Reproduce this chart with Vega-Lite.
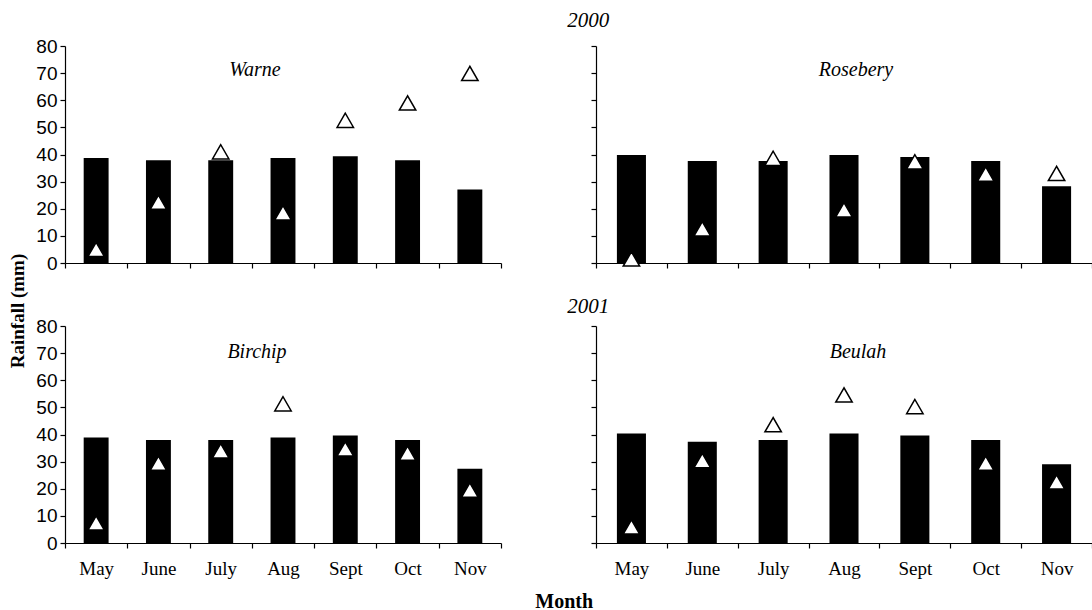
{
  "$schema": "https://vega.github.io/schema/vega-lite/v6.json",
  "padding": {"left": 8, "top": 10, "right": 0, "bottom": 0},
  "background": "white",
  "datasets": {
    "rain": [
      {"site": "Warne", "year": "2000", "month": "May", "mean": 38.7, "actual": 5.0},
      {"site": "Warne", "year": "2000", "month": "June", "mean": 37.9, "actual": 22.4},
      {"site": "Warne", "year": "2000", "month": "July", "mean": 37.9, "actual": 41.0},
      {"site": "Warne", "year": "2000", "month": "Aug", "mean": 38.7, "actual": 18.5},
      {"site": "Warne", "year": "2000", "month": "Sept", "mean": 39.4, "actual": 52.6},
      {"site": "Warne", "year": "2000", "month": "Oct", "mean": 37.9, "actual": 59.0},
      {"site": "Warne", "year": "2000", "month": "Nov", "mean": 27.1, "actual": 69.9},
      {"site": "Rosebery", "year": "2000", "month": "May", "mean": 39.8, "actual": 1.5},
      {"site": "Rosebery", "year": "2000", "month": "June", "mean": 37.6, "actual": 12.6},
      {"site": "Rosebery", "year": "2000", "month": "July", "mean": 37.6, "actual": 38.6},
      {"site": "Rosebery", "year": "2000", "month": "Aug", "mean": 39.8, "actual": 19.6},
      {"site": "Rosebery", "year": "2000", "month": "Sept", "mean": 39.1, "actual": 37.3},
      {"site": "Rosebery", "year": "2000", "month": "Oct", "mean": 37.6, "actual": 32.8},
      {"site": "Rosebery", "year": "2000", "month": "Nov", "mean": 28.3, "actual": 33.0},
      {"site": "Birchip", "year": "2001", "month": "May", "mean": 38.9, "actual": 7.4},
      {"site": "Birchip", "year": "2001", "month": "June", "mean": 38.0, "actual": 29.4},
      {"site": "Birchip", "year": "2001", "month": "July", "mean": 38.0, "actual": 34.0},
      {"site": "Birchip", "year": "2001", "month": "Aug", "mean": 38.9, "actual": 51.3},
      {"site": "Birchip", "year": "2001", "month": "Sept", "mean": 39.6, "actual": 34.7},
      {"site": "Birchip", "year": "2001", "month": "Oct", "mean": 38.0, "actual": 33.1},
      {"site": "Birchip", "year": "2001", "month": "Nov", "mean": 27.4, "actual": 19.5},
      {"site": "Beulah", "year": "2001", "month": "May", "mean": 40.4, "actual": 5.9},
      {"site": "Beulah", "year": "2001", "month": "June", "mean": 37.3, "actual": 30.4},
      {"site": "Beulah", "year": "2001", "month": "July", "mean": 38.0, "actual": 43.6},
      {"site": "Beulah", "year": "2001", "month": "Aug", "mean": 40.4, "actual": 54.6},
      {"site": "Beulah", "year": "2001", "month": "Sept", "mean": 39.6, "actual": 50.3},
      {"site": "Beulah", "year": "2001", "month": "Oct", "mean": 38.0, "actual": 29.4},
      {"site": "Beulah", "year": "2001", "month": "Nov", "mean": 29.0, "actual": 22.5}
    ]
  },
  "data": {"name": "rain"},
  "title": {"text": "Rainfall (mm)", "orient": "left", "anchor": "middle", "font": "Liberation Serif", "fontWeight": "bold", "fontSize": 19, "color": "black", "offset": 8},
  "vconcat": [
    {
      "title": {"text": "Month", "orient": "bottom", "anchor": "middle", "font": "Liberation Serif", "fontWeight": "bold", "fontSize": 20, "color": "black", "offset": 14},
      "spacing": 23,
      "vconcat": [
        {
          "title": {"text": "2000", "anchor": "middle", "font": "Liberation Serif", "fontStyle": "italic", "fontWeight": "normal", "fontSize": 21, "color": "black", "offset": 6, "dx": 24},
          "spacing": 88,
          "hconcat": [
            {
              "width": 436, "height": 217,
              "transform": [{"filter": "datum.site === 'Warne'"}],
              "encoding": {"x": {"field": "month", "type": "ordinal", "sort": ["May", "June", "July", "Aug", "Sept", "Oct", "Nov"], "scale": {"paddingInner": 0, "paddingOuter": 0}, "axis": {"title": null, "labels": false, "tickBand": "extent"}}},
              "layer": [
                {"mark": {"type": "bar", "color": "black", "width": {"band": 0.4}}, "encoding": {"y": {"field": "mean", "type": "quantitative", "scale": {"domain": [0, 80], "nice": false}, "axis": {"title": null, "tickCount": 10, "values": [0, 10, 20, 30, 40, 50, 60, 70, 80]}}}},
                {"mark": {"type": "point", "shape": "triangle-up", "filled": true, "fill": "white", "stroke": "black", "strokeWidth": 1.5, "size": 270, "opacity": 1}, "encoding": {"y": {"field": "actual", "type": "quantitative", "axis": {"title": null, "tickCount": 10, "values": [0, 10, 20, 30, 40, 50, 60, 70, 80]}}}},
                {"transform": [{"filter": "datum.month === 'Aug'"}], "mark": {"type": "text", "font": "Liberation Serif", "fontStyle": "italic", "fontSize": 20, "color": "black", "dx": -28}, "encoding": {"y": {"datum": 71, "type": "quantitative", "axis": {"title": null, "tickCount": 10, "values": [0, 10, 20, 30, 40, 50, 60, 70, 80]}}, "text": {"field": "site"}}}
              ]
            },
            {
              "width": 496, "height": 217,
              "transform": [{"filter": "datum.site === 'Rosebery'"}],
              "encoding": {"x": {"field": "month", "type": "ordinal", "sort": ["May", "June", "July", "Aug", "Sept", "Oct", "Nov"], "scale": {"paddingInner": 0, "paddingOuter": 0}, "axis": {"title": null, "labels": false, "tickBand": "extent"}}},
              "layer": [
                {"mark": {"type": "bar", "color": "black", "width": {"band": 0.41}}, "encoding": {"y": {"field": "mean", "type": "quantitative", "scale": {"domain": [0, 80], "nice": false}, "axis": {"title": null, "labels": false, "tickCount": 10, "values": [0, 10, 20, 30, 40, 50, 60, 70, 80]}}}},
                {"mark": {"type": "point", "shape": "triangle-up", "filled": true, "fill": "white", "stroke": "black", "strokeWidth": 1.5, "size": 270, "opacity": 1}, "encoding": {"y": {"field": "actual", "type": "quantitative", "axis": {"title": null, "labels": false, "tickCount": 10, "values": [0, 10, 20, 30, 40, 50, 60, 70, 80]}}}},
                {"transform": [{"filter": "datum.month === 'Aug'"}], "mark": {"type": "text", "font": "Liberation Serif", "fontStyle": "italic", "fontSize": 20, "color": "black", "dx": 12}, "encoding": {"y": {"datum": 71, "type": "quantitative", "axis": {"title": null, "labels": false, "tickCount": 10, "values": [0, 10, 20, 30, 40, 50, 60, 70, 80]}}, "text": {"field": "site"}}}
              ]
            }
          ]
        },
        {
          "title": {"text": "2001", "anchor": "middle", "font": "Liberation Serif", "fontStyle": "italic", "fontWeight": "normal", "fontSize": 21, "color": "black", "offset": 0, "dx": 24},
          "spacing": 88,
          "hconcat": [
            {
              "width": 436, "height": 217,
              "transform": [{"filter": "datum.site === 'Birchip'"}],
              "encoding": {"x": {"field": "month", "type": "ordinal", "sort": ["May", "June", "July", "Aug", "Sept", "Oct", "Nov"], "scale": {"paddingInner": 0, "paddingOuter": 0}, "axis": {"title": null, "tickBand": "extent"}}},
              "layer": [
                {"mark": {"type": "bar", "color": "black", "width": {"band": 0.4}}, "encoding": {"y": {"field": "mean", "type": "quantitative", "scale": {"domain": [0, 80], "nice": false}, "axis": {"title": null, "tickCount": 10, "values": [0, 10, 20, 30, 40, 50, 60, 70, 80]}}}},
                {"mark": {"type": "point", "shape": "triangle-up", "filled": true, "fill": "white", "stroke": "black", "strokeWidth": 1.5, "size": 270, "opacity": 1}, "encoding": {"y": {"field": "actual", "type": "quantitative", "axis": {"title": null, "tickCount": 10, "values": [0, 10, 20, 30, 40, 50, 60, 70, 80]}}}},
                {"transform": [{"filter": "datum.month === 'Aug'"}], "mark": {"type": "text", "font": "Liberation Serif", "fontStyle": "italic", "fontSize": 20, "color": "black", "dx": -26}, "encoding": {"y": {"datum": 70.5, "type": "quantitative", "axis": {"title": null, "tickCount": 10, "values": [0, 10, 20, 30, 40, 50, 60, 70, 80]}}, "text": {"field": "site"}}}
              ]
            },
            {
              "width": 496, "height": 217,
              "transform": [{"filter": "datum.site === 'Beulah'"}],
              "encoding": {"x": {"field": "month", "type": "ordinal", "sort": ["May", "June", "July", "Aug", "Sept", "Oct", "Nov"], "scale": {"paddingInner": 0, "paddingOuter": 0}, "axis": {"title": null, "tickBand": "extent"}}},
              "layer": [
                {"mark": {"type": "bar", "color": "black", "width": {"band": 0.41}}, "encoding": {"y": {"field": "mean", "type": "quantitative", "scale": {"domain": [0, 80], "nice": false}, "axis": {"title": null, "labels": false, "tickCount": 10, "values": [0, 10, 20, 30, 40, 50, 60, 70, 80]}}}},
                {"mark": {"type": "point", "shape": "triangle-up", "filled": true, "fill": "white", "stroke": "black", "strokeWidth": 1.5, "size": 270, "opacity": 1}, "encoding": {"y": {"field": "actual", "type": "quantitative", "axis": {"title": null, "labels": false, "tickCount": 10, "values": [0, 10, 20, 30, 40, 50, 60, 70, 80]}}}},
                {"transform": [{"filter": "datum.month === 'Aug'"}], "mark": {"type": "text", "font": "Liberation Serif", "fontStyle": "italic", "fontSize": 20, "color": "black", "dx": 14}, "encoding": {"y": {"datum": 70.5, "type": "quantitative", "axis": {"title": null, "labels": false, "tickCount": 10, "values": [0, 10, 20, 30, 40, 50, 60, 70, 80]}}, "text": {"field": "site"}}}
              ]
            }
          ]
        }
      ]
    }
  ],
  "config": {
    "view": {"stroke": null},
    "font": "Liberation Serif",
    "axis": {"domainColor": "black", "tickColor": "black", "labelColor": "black", "domainWidth": 1.2, "tickWidth": 1.2, "tickSize": 5, "grid": false, "labelFont": "Liberation Serif", "labelFontSize": 19},
    "axisX": {"labelAngle": 0, "labelPadding": 11},
    "axisY": {"labelFont": "Liberation Sans", "labelFontSize": 19, "labelPadding": 3, "labelOverlap": false, "tickCount": 10}
  }
}
